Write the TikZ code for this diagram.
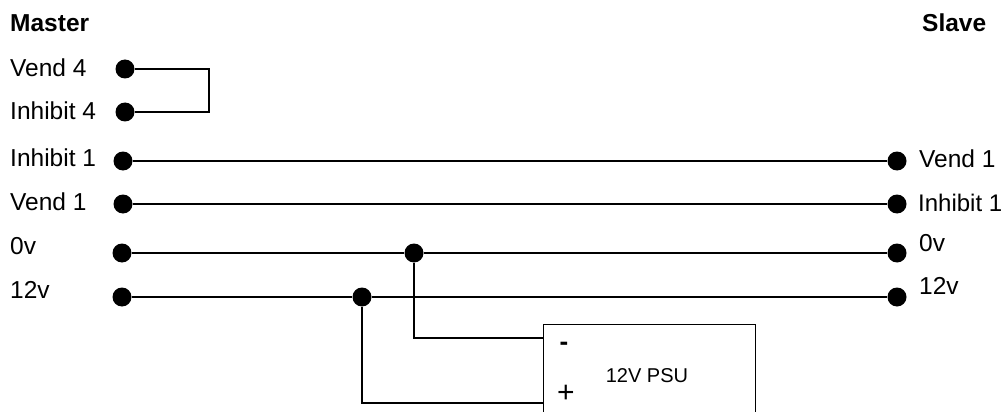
\documentclass[tikz,border=0pt]{standalone}
\usepackage{fontspec}
\setmainfont{Liberation Sans}
\usetikzlibrary{calc}
\begin{document}
\begin{tikzpicture}[x=1pt,y=-1pt,
  dot/.style={circle,fill=black,inner sep=0pt,minimum size=19pt},
  wire/.style={line width=1.8pt},
  lbl/.style={anchor=base west,inner sep=0pt,font=\fontsize{24.5}{29}\selectfont},
  hdr/.style={anchor=base west,inner sep=0pt,font=\fontsize{24.5}{29}\selectfont\bfseries},
  small/.style={inner sep=0pt,font=\fontsize{20}{24}\selectfont}]
\path[use as bounding box] (0,0) rectangle (1005,412);
% headers
\node[hdr] (master) at (10,32) {Master};
\node[hdr] (slave) at (922,32) {Slave};
% left labels
\node[lbl] (lv4) at (10,77) {Vend 4};
\node[lbl] (li4) at (10,120) {Inhibit 4};
\node[lbl] (li1) at (10,166) {Inhibit 1};
\node[lbl] (lv1) at (10,210) {Vend 1};
\node[lbl] (l0v) at (10,254) {0v};
\node[lbl] (l12) at (10,298) {12v};
% right labels
\node[lbl] (rv1) at (919,167) {Vend 1};
\node[lbl,font=\fontsize{24}{28}\selectfont] (ri1) at (918,211) {Inhibit 1};
\node[lbl] (r0v) at (919,251) {0v};
\node[lbl] (r12) at (919,294) {12v};
% dots
\node[dot] (v4) at (125,69) {};
\node[dot] (i4) at (125,112) {};
\node[dot] (mi1) at (123,161) {};
\node[dot] (mv1) at (123,204) {};
\node[dot] (m0) at (122,253) {};
\node[dot] (m12) at (122,297) {};
\node[dot] (sv1) at (897,161) {};
\node[dot] (si1) at (897,204) {};
\node[dot] (s0) at (897,253) {};
\node[dot] (s12) at (897,297) {};
\node[dot] (j0) at (414,253) {};
\node[dot] (j12) at (362,297) {};
% PSU box
\begin{scope}
\clip (0,0) rectangle (1005,412);
\node[draw,line width=1.3pt,minimum width=212pt,minimum height=130pt,anchor=north west,inner sep=0pt] (psu) at (543,324) {};
\end{scope}
\node[inner sep=0pt,font=\fontsize{26}{30}\selectfont\bfseries] (minus) at (564,346) {-};
\node[inner sep=0pt,font=\fontsize{30}{34}\selectfont] (plus) at (566,394) {+};
\node[small,anchor=base] (psulbl) at (647,382) {12V PSU};
\coordinate (pm) at ($(psu.north west)+(0,14)$);
\coordinate (pp) at ($(psu.north west)+(0,79)$);
\coordinate (loop) at (209,69);
% wires
\draw[wire] (v4) -- (loop) |- (i4);
\draw[wire] (mi1) -- (sv1);
\draw[wire] (mv1) -- (si1);
\draw[wire] (m0) -- (j0) -- (s0);
\draw[wire] (m12) -- (j12) -- (s12);
\draw[wire] (j0) |- (pm);
\draw[wire] (j12) |- (pp);
\end{tikzpicture}
\end{document}
